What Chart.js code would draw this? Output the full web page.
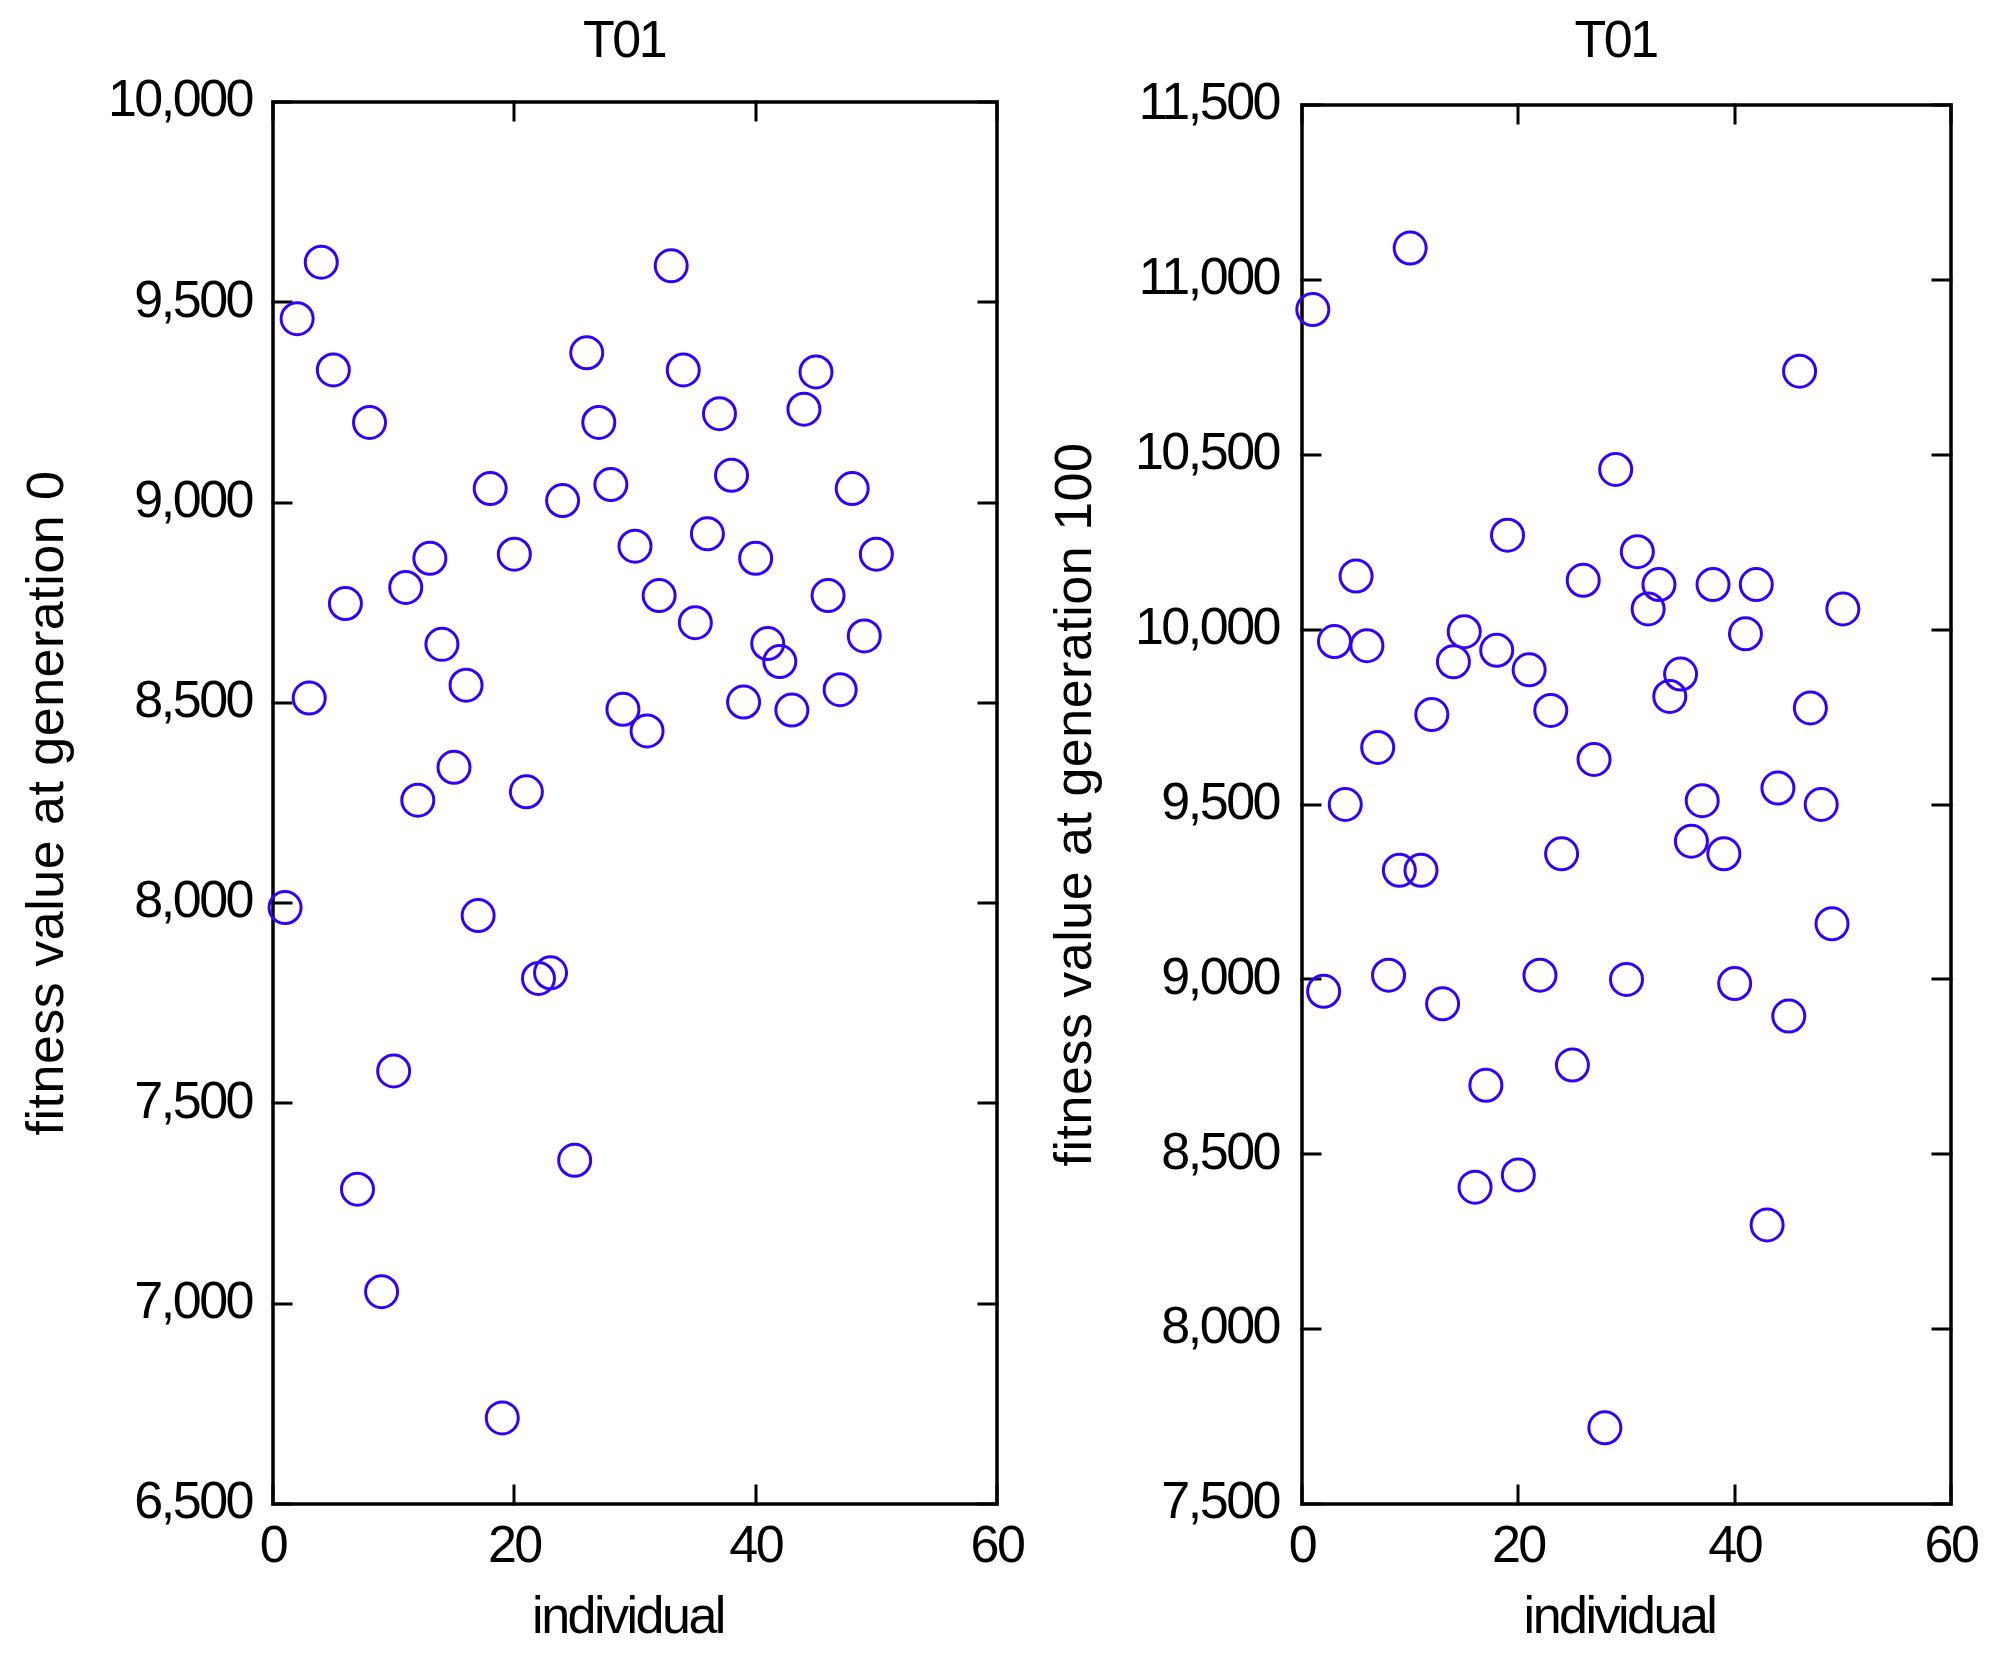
<!DOCTYPE html>
<html>
<head>
<meta charset="utf-8">
<script src="https://cdn.jsdelivr.net/npm/chart.js@4.4.1/dist/chart.umd.min.js"></script>
<style>
  html, body { margin: 0; padding: 0; background: #ffffff; }
  body { width: 1994px; height: 1677px; position: relative; overflow: hidden; }
  .wrap { position: absolute; top: 0; height: 1677px; }
  #w1 { left: 0; width: 1040px; }
  #w2 { left: 1010px; width: 984px; }
  canvas { display: block; }
</style>
</head>
<body>
<div class="wrap" id="w1"><canvas id="c1" width="1040" height="1677"></canvas></div>
<div class="wrap" id="w2"><canvas id="c2" width="984" height="1677"></canvas></div>
<script>
// ---- data ----
const individuals = [1,2,3,4,5,6,7,8,9,10,11,12,13,14,15,16,17,18,19,20,21,22,23,24,25,26,27,28,29,30,31,32,33,34,35,36,37,38,39,40,41,42,43,44,45,46,47,48,49,50];
const fitnessGen0 = [7989, 9459, 8512, 9600, 9331, 8748, 7286, 9200, 7030, 7581, 8788, 8257, 8861, 8646, 8339, 8544, 7969, 9035, 6715, 8871, 8278, 7812, 7826, 9005, 7358, 9374, 9200, 9045, 8484, 8891, 8430, 8768, 9591, 9331, 8700, 8922, 9222, 9068, 8502, 8861, 8648, 8603, 8482, 9233, 9326, 8768, 8533, 9035, 8667, 8871];
const fitnessGen100 = [10915, 8966, 9966, 9500, 10153, 9954, 9663, 9012, 9312, 11091, 9312, 9757, 8930, 9908, 9994, 8406, 8697, 9941, 10270, 8441, 9885, 9012, 9769, 9359, 8755, 10141, 9629, 7718, 10458, 9000, 10223, 10059, 10129, 9809, 9873, 9395, 9511, 10129, 9359, 8988, 9988, 10129, 8298, 9547, 8895, 10739, 9776, 9500, 9159, 10059];
const xTicks = [0, 20, 40, 60];
const yTicks0 = [6500, 7000, 7500, 8000, 8500, 9000, 9500, 10000];
const yTicks100 = [7500, 8000, 8500, 9000, 9500, 10000, 10500, 11000, 11500];
const chartTitle = 'T01';
const xLabel = 'individual';
const yLabel0 = 'fitness value at generation 0';
const yLabel100 = 'fitness value at generation 100';

const FONT = { family: "'Liberation Sans Narrow', 'Liberation Sans', Arial, sans-serif", size: 52, lineHeight: 1.2 };
const MARK = '#3300ff';

const narrowText = {
  id: 'narrowText',
  beforeUpdate(chart) { chart.ctx.letterSpacing = '-2.5px'; },
  beforeLayout(chart) { chart.ctx.letterSpacing = '-2.5px'; },
  beforeDraw(chart) { chart.ctx.letterSpacing = '-2.5px'; }
};

// wrap a scale's title drawing to tweak letter spacing / nudge horizontally
function titleStyle(spacing, dx) {
  return function (s) {
    if (s._titleWrapped) return;
    const orig = s.drawTitle;
    s.drawTitle = function () {
      const c = this.ctx;
      c.save();
      if (spacing !== null) c.letterSpacing = spacing;
      c.translate(dx, 0);
      orig.call(this);
      c.restore();
    };
    s._titleWrapped = true;
  };
}

const boxPlugin = {
  id: 'matlabBox',
  beforeDatasetsDraw(chart) {
    const { ctx, chartArea: a, scales } = chart;
    const x = scales.x, y = scales.y;
    const L = 18;
    ctx.save();
    ctx.strokeStyle = '#000';
    ctx.lineWidth = 3;
    ctx.lineCap = 'square';
    ctx.beginPath();
    x.ticks.forEach(t => {
      const px = Math.round(x.getPixelForValue(t.value));
      ctx.moveTo(px, a.bottom); ctx.lineTo(px, a.bottom - L);
      ctx.moveTo(px, a.top); ctx.lineTo(px, a.top + L);
    });
    y.ticks.forEach(t => {
      const py = Math.round(y.getPixelForValue(t.value));
      ctx.moveTo(a.left, py); ctx.lineTo(a.left + L, py);
      ctx.moveTo(a.right, py); ctx.lineTo(a.right - L, py);
    });
    ctx.stroke();
    ctx.lineCap = 'butt';
    ctx.lineWidth = 3.5;
    ctx.strokeRect(a.left, a.top, a.right - a.left, a.bottom - a.top);
    ctx.restore();
  }
};

function makeChart(canvasId, values, yTickList, yTitle, geom) {
  const pts = individuals.map((v, i) => ({ x: v, y: values[i] }));
  return new Chart(document.getElementById(canvasId), {
    type: 'scatter',
    data: {
      datasets: [{
        data: pts,
        showLine: false,
        pointStyle: 'circle',
        pointRadius: 16,
        pointHoverRadius: 16,
        borderWidth: 3,
        borderColor: MARK,
        backgroundColor: 'rgba(0,0,0,0)',
        clip: false
      }]
    },
    options: {
      responsive: false,
      animation: false,
      devicePixelRatio: 1,
      events: [],
      layout: { padding: { left: 0, right: geom.padRight, top: 0, bottom: 0 } },
      plugins: { legend: { display: false }, tooltip: { enabled: false }, title: { display: false } },
      scales: {
        x: {
          type: 'linear', position: 'bottom',
          min: xTicks[0], max: xTicks[xTicks.length - 1],
          afterBuildTicks: s => { s.ticks = xTicks.map(v => ({ value: v })); },
          ticks: { font: FONT, color: '#000', padding: 12, maxRotation: 0 },
          grid: { display: false, drawTicks: false },
          border: { display: false },
          title: { display: true, text: xLabel, font: FONT, color: '#000', padding: { top: 0, bottom: 27 } },
          afterFit: s => { s.height = 1677 - 1504; },
          afterUpdate: titleStyle(null, -7)
        },
        y: {
          type: 'linear', position: 'left',
          min: yTickList[0], max: yTickList[yTickList.length - 1],
          afterBuildTicks: s => { s.ticks = yTickList.map(v => ({ value: v })); },
          ticks: { font: FONT, color: '#000', padding: geom.yPad, callback: v => v.toLocaleString('en-US') },
          grid: { display: false, drawTicks: false },
          border: { display: false },
          title: { display: true, text: yTitle, font: FONT, color: '#000', padding: { top: geom.yTitlePad, bottom: 0 } },
          afterFit: s => { s.width = geom.left; },
          afterUpdate: titleStyle('0.5px', 0)
        },
        top: {
          type: 'linear', position: 'top',
          min: xTicks[0], max: xTicks[xTicks.length - 1],
          ticks: { display: false },
          grid: { display: false, drawTicks: false },
          border: { display: false },
          title: { display: true, text: chartTitle, font: FONT, color: '#000', padding: { top: 11, bottom: 0 } },
          afterFit: s => { s.height = geom.top; },
          afterUpdate: titleStyle(null, -11)
        }
      }
    },
    plugins: [narrowText, boxPlugin]
  });
}

makeChart('c1', fitnessGen0, yTicks0, yLabel0, { left: 273, top: 102, padRight: 43, yPad: 21, yTitlePad: 17 });
makeChart('c2', fitnessGen100, yTicks100, yLabel100, { left: 292, top: 105, padRight: 43, yPad: 23, yTitlePad: 35 });
</script>
</body>
</html>
